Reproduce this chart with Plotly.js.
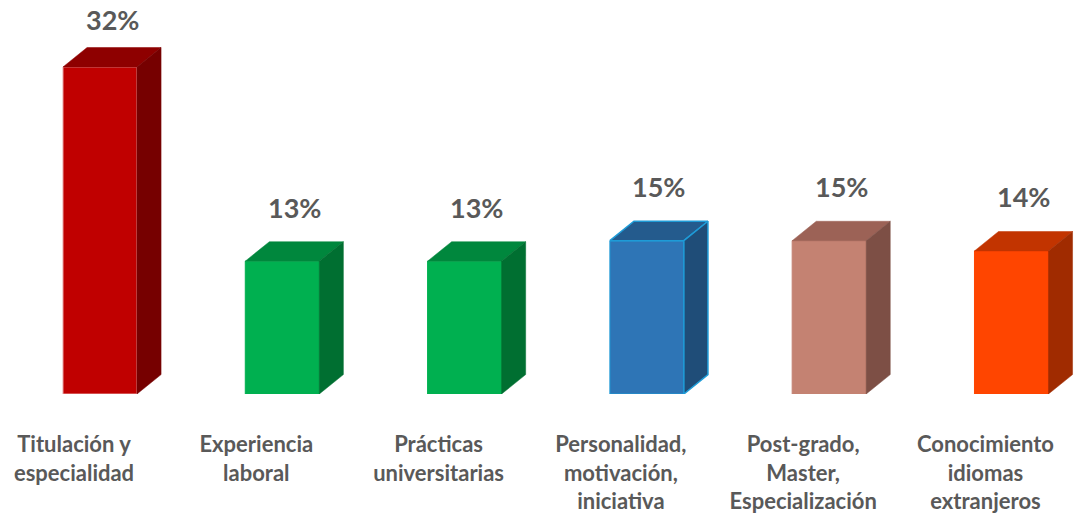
<!DOCTYPE html>
<html>
<head>
<meta charset="utf-8">
<script src="https://cdn.plot.ly/plotly-3.0.1.min.js"></script>
<style>html,body{margin:0;padding:0;background:#fff;}#chart{width:1074px;height:517px;}</style>
</head>
<body>
<div id="chart"></div>
<script>
// ---- data ----
const categories = [
  "Titulación y<br>especialidad",
  "Experiencia<br>laboral",
  "Prácticas<br>universitarias",
  "Personalidad,<br>motivación,<br>iniciativa",
  "Post-grado,<br>Master,<br>Especialización",
  "Conocimiento<br>idiomas<br>extranjeros"
];
const values = [32, 13, 13, 15, 15, 14];
const frontColors = ["#C00000", "#00B050", "#00B050", "#2E75B6", "#C48272", "#FF4500"];
const topColors   = ["#8E0000", "#00873D", "#00873D", "#245B8D", "#9C6256", "#C23400"];
const sideColors  = ["#760000", "#006F31", "#006F31", "#1F4D78", "#7D4F45", "#A02B00"];
const edgeColors  = ["#E8A0A0", "#00B050", "#00B050", "#1E9BD7", "#C48272", "#FF4500"];

// ---- geometry (style) ----
const W = 0.406;   // bar width in category units
const DX = 0.132;  // depth offset in category units
const DY = 1.9;    // depth offset in value units

const traces = [];
const xs = values.map((v, i) => i);
const vmax = Math.max(...values);

traces.push({
  type: "bar", x: xs, y: values, width: W,
  marker: {color: frontColors, line: {color: edgeColors, width: 1}},
  hoverinfo: "skip"
});

values.forEach((v, i) => {
  const l = i - W / 2, r = i + W / 2;
  // top face
  traces.push({
    type: "scatter", mode: "lines", fill: "toself",
    x: [l, l + DX, r + DX, r, l],
    y: [v, v + DY, v + DY, v, v],
    fillcolor: topColors[i],
    line: {color: i === 3 ? edgeColors[i] : topColors[i], width: i === 3 ? 1.5 : 0.5},
    hoverinfo: "skip"
  });
  // side face
  traces.push({
    type: "scatter", mode: "lines", fill: "toself",
    x: [r, r, r + DX, r + DX, r],
    y: [0, v, v + DY, DY, 0],
    fillcolor: sideColors[i],
    line: {color: i === 3 ? edgeColors[i] : sideColors[i], width: i === 3 ? 1.5 : 0.5},
    hoverinfo: "skip"
  });
});

const annotations = values.map((v, i) => ({
  x: i + DX / 2, y: v + DY, xref: "x", yref: "y",
  text: Math.round(v) + "%", showarrow: false,
  yanchor: "bottom", xanchor: "center", yshift: v === vmax ? 10 : 16,
  font: {family: "Lato, 'Open Sans', sans-serif", size: 27, color: "#595959", weight: 700}
}));

const layout = {
  width: 1074, height: 517,
  margin: {l: 0, r: 0, t: 0, b: 123, pad: 0},
  paper_bgcolor: "#ffffff", plot_bgcolor: "#ffffff",
  showlegend: false,
  xaxis: {
    range: [-0.5486, 5.343], tickmode: "array", tickvals: xs, ticktext: categories,
    showgrid: false, zeroline: false, showline: false, ticks: "",
    ticklabelshift: -26, ticklabelstandoff: 35,
    tickfont: {family: "Lato, 'Open Sans', sans-serif", size: 22, color: "#595959", weight: 700},
    fixedrange: true
  },
  yaxis: {
    range: [0, 38.55], visible: false, showgrid: false, zeroline: false, fixedrange: true
  },
  annotations: annotations,
  bargap: 0
};

Plotly.newPlot("chart", traces, layout, {displayModeBar: false, staticPlot: true});
</script>
</body>
</html>
